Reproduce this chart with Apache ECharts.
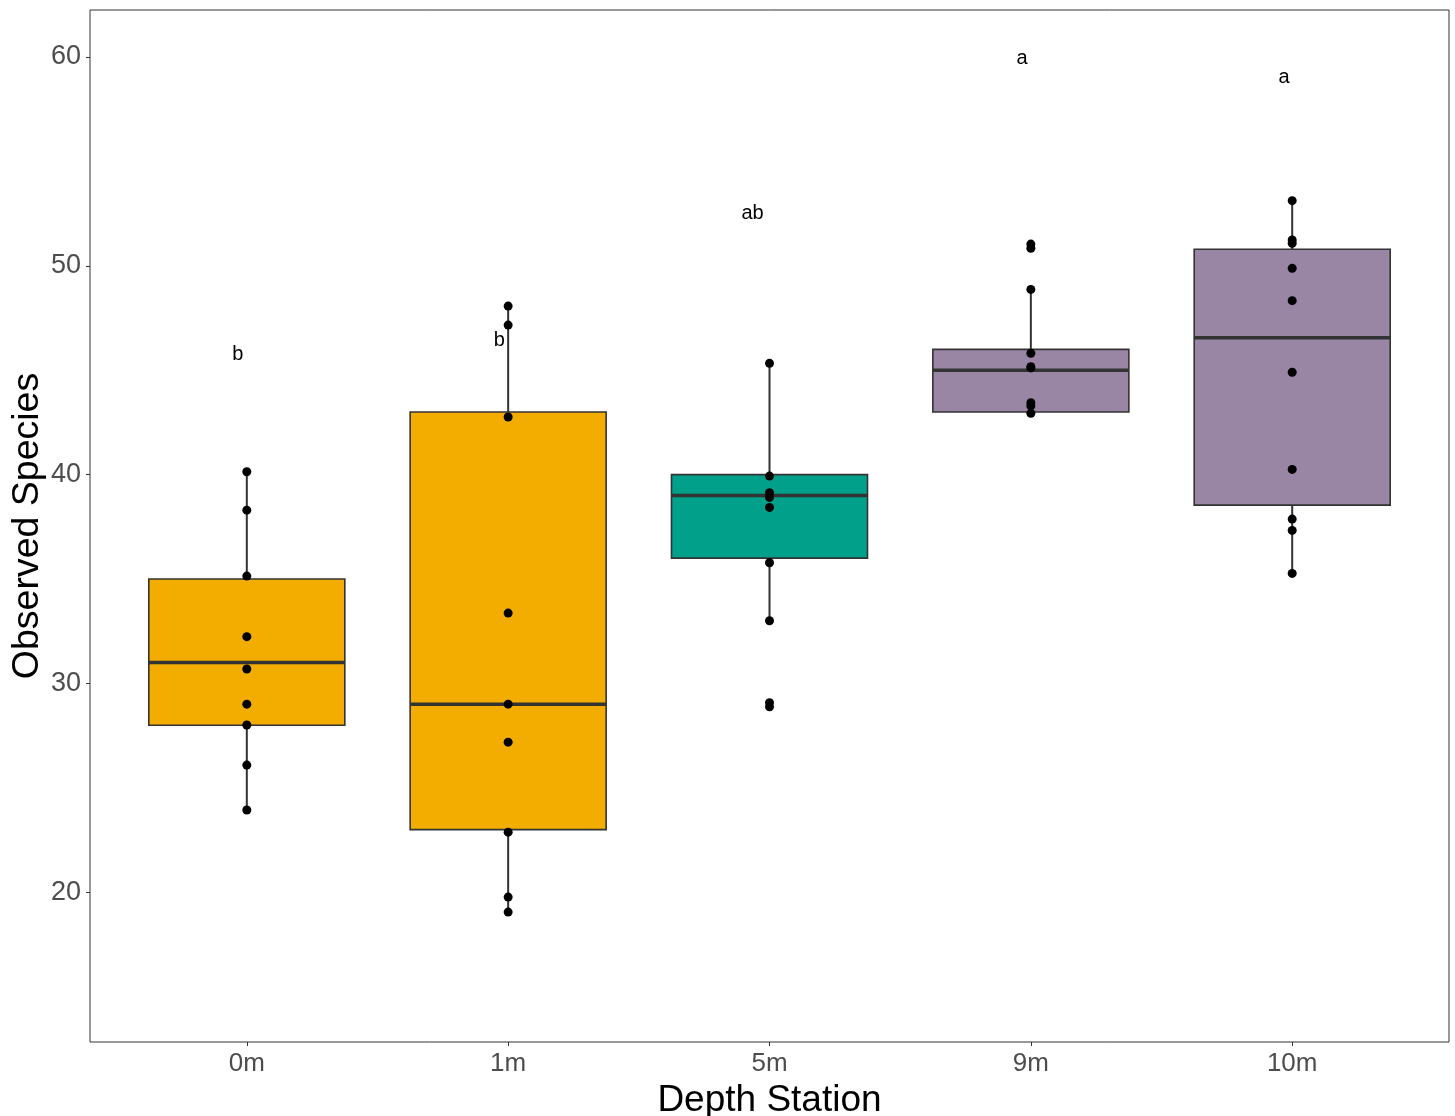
<!DOCTYPE html>
<html>
<head>
<meta charset="utf-8">
<script src="https://cdn.jsdelivr.net/npm/echarts@6/dist/echarts.min.js"></script>
<style>
html,body{margin:0;padding:0;background:#fff;}
#chart{width:1455px;height:1116px;}
</style>
</head>
<body>
<div id="chart"></div>
<script>
// ---- data ----
const categories = ['0m', '1m', '5m', '9m', '10m'];
const whiskerLow  = [23.94, 19.05, 33.00, 42.94, 35.27];
const q1          = [28.00, 23.00, 36.00, 43.00, 38.54];
const median      = [31.00, 29.00, 39.00, 45.00, 46.56];
const q3          = [35.00, 43.00, 40.00, 46.00, 50.79];
const whiskerHigh = [40.14, 48.07, 45.33, 48.87, 53.12];
const fillColors  = ['#F2AD00', '#F2AD00', '#00A08A', '#9986A5', '#9986A5'];

const pts0m  = [40.14, 38.30, 35.14, 32.24, 30.69, 29.01, 28.01, 26.09, 23.94];
const pts1m  = [48.07, 47.16, 42.76, 33.37, 29.01, 27.19, 22.88, 19.77, 19.05];
const pts5m  = [45.33, 39.93, 39.13, 38.91, 38.43, 35.78, 33.00, 29.08, 28.88];
const pts9m  = [51.04, 50.84, 48.87, 45.81, 45.17, 45.11, 43.44, 43.29, 42.94];
const pts10m = [53.12, 51.24, 51.08, 49.88, 48.33, 44.90, 40.25, 37.87, 37.33, 35.27];
const pointsByCat = [pts0m, pts1m, pts5m, pts9m, pts10m];

const letterText = ['b', 'b', 'ab', 'a', 'a'];
const letterX    = [0.966, 1.966, 2.935, 3.966, 4.969];
const letterY    = [45.73, 46.40, 52.50, 59.95, 59.04];

const yTicks = [20, 30, 40, 50, 60];
const xTicks = [1, 2, 3, 4, 5];

// ---- build ----
const boxData = categories.map((c, i) => [i + 1, whiskerLow[i], q1[i], median[i], q3[i], whiskerHigh[i]]);
const pointData = [];
pointsByCat.forEach((arr, i) => arr.forEach(v => pointData.push([i + 1, v])));
const letterData = letterText.map((t, i) => ({ value: [letterX[i], letterY[i]], name: t }));

const FONT = "'Liberation Sans', Arial, Helvetica, sans-serif";
const HALF = 0.375;

const chart = echarts.init(document.getElementById('chart'), null, { renderer: 'canvas' });
chart.setOption({
  animation: false,
  backgroundColor: '#ffffff',
  grid: { left: 90, right: 6, top: 10, bottom: 74, containLabel: false, outerBoundsMode: 'none',
          show: true, borderColor: '#333333', borderWidth: 1, backgroundColor: 'transparent' },
  xAxis: {
    type: 'value', min: 0.4, max: 5.6,
    name: 'Depth Station', nameLocation: 'middle', nameGap: 33,
    nameTextStyle: { color: '#000', fontSize: 37, fontFamily: FONT },
    axisLine: { show: false },
    splitLine: { show: false },
    axisTick: { show: true, length: 4, customValues: xTicks, lineStyle: { color: '#333', width: 1 } },
    axisLabel: { customValues: xTicks, margin: 9, color: '#4D4D4D', fontSize: 26, fontFamily: FONT,
      formatter: v => categories[Math.round(v) - 1] || '' }
  },
  yAxis: {
    type: 'value', min: 12.83, max: 62.25,
    name: 'Observed Species', nameLocation: 'middle', nameGap: 43, nameMoveOverlap: false,
    nameTextStyle: { color: '#000', fontSize: 37.5, fontFamily: FONT },
    axisLine: { show: false },
    splitLine: { show: false },
    axisTick: { show: true, length: 4, customValues: yTicks, lineStyle: { color: '#333', width: 1 } },
    axisLabel: { customValues: yTicks, margin: 9, color: '#4D4D4D', fontSize: 27, fontFamily: FONT }
  },
  series: [
    {
      type: 'custom',
      data: boxData,
      z: 2,
      encode: { x: 0, y: [1, 2, 3, 4, 5] },
      renderItem: function (params, api) {
        const x = api.value(0);
        const lo = api.value(1), a = api.value(2), m = api.value(3), b = api.value(4), hi = api.value(5);
        const pLo = api.coord([x, lo]), pHi = api.coord([x, hi]);
        const pA = api.coord([x, a]), pB = api.coord([x, b]);
        const left = api.coord([x - HALF, m])[0], right = api.coord([x + HALF, m])[0];
        const pM = api.coord([x, m]);
        const idx = params.dataIndex;
        const lineStyle = { stroke: '#333333', lineWidth: 2 };
        return {
          type: 'group',
          children: [
            { type: 'line', shape: { x1: pHi[0], y1: pHi[1], x2: pB[0], y2: pB[1] }, style: lineStyle },
            { type: 'line', shape: { x1: pA[0], y1: pA[1], x2: pLo[0], y2: pLo[1] }, style: lineStyle },
            { type: 'rect', shape: { x: left, y: pB[1], width: right - left, height: pA[1] - pB[1] },
              style: { fill: fillColors[idx], stroke: '#333333', lineWidth: 1.6 } },
            { type: 'line', shape: { x1: left, y1: pM[1], x2: right, y2: pM[1] }, style: { stroke: '#333333', lineWidth: 3.5 } }
          ]
        };
      }
    },
    {
      type: 'scatter',
      data: pointData,
      z: 5,
      symbol: 'circle',
      symbolSize: 9,
      itemStyle: { color: '#000000', opacity: 1 },
      emphasis: { disabled: true }
    },
    {
      type: 'scatter',
      data: letterData,
      z: 6,
      symbolSize: 0,
      itemStyle: { opacity: 1 },
      label: { show: true, position: 'inside', formatter: p => p.name, color: '#000', opacity: 1, fontSize: 20, fontFamily: FONT },
      emphasis: { disabled: true }
    }
  ]
});
</script>
</body>
</html>
